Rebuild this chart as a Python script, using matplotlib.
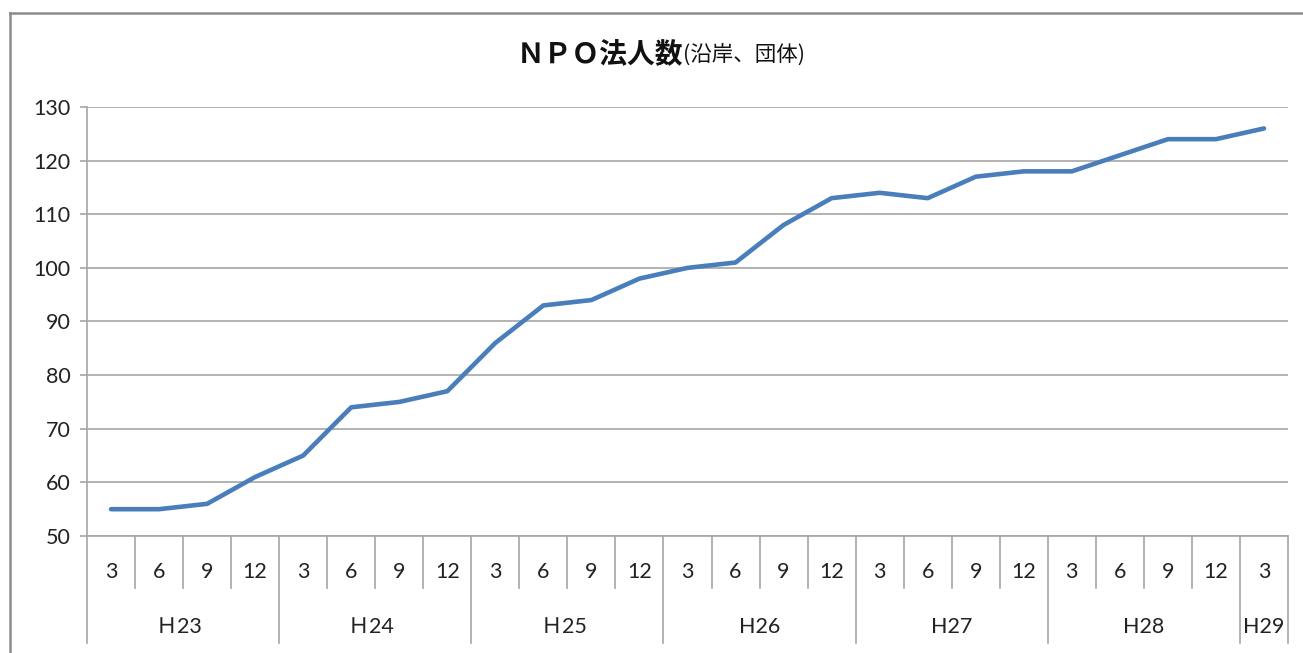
import matplotlib
matplotlib.use("Agg")
import matplotlib.pyplot as plt
from matplotlib.lines import Line2D

plt.rcParams['font.family'] = ['Lato', 'Noto Sans CJK JP', 'DejaVu Sans']

# ---- data ----
months = ["3", "6", "9", "12", "3", "6", "9", "12", "3", "6", "9", "12",
          "3", "6", "9", "12", "3", "6", "9", "12", "3", "6", "9", "12", "3"]
groups = ["Ｈ23", "Ｈ24", "Ｈ25", "H26", "H27", "H28", "H29"]
group_sizes = [4, 4, 4, 4, 4, 4, 1]
values = [55, 55, 56, 61, 65, 74, 75, 77, 86, 93, 94, 98,
          100, 101, 108, 113, 114, 113, 117, 118, 118, 121, 124, 124, 126]
yticks = [50, 60, 70, 80, 90, 100, 110, 120, 130]
title_main = "ＮＰＯ法人数"
title_sub = "(沿岸、団体)"

W, H = 1303, 653
fig = plt.figure(figsize=(W / 100, H / 100), dpi=100)

x0, x1, ytop, ybot = 87, 1288, 107, 536
ax = fig.add_axes([x0 / W, (H - ybot) / H, (x1 - x0) / W, (ybot - ytop) / H])

n = len(values)
xs = list(range(n))
ax.plot(xs, values, color="#4A7EBB", lw=3.3, solid_capstyle="round", solid_joinstyle="round", zorder=3)

FS = 15.5
ax.set_xlim(-0.5, n - 0.5)
ax.set_ylim(50, 130)
ax.set_yticks(yticks)
ax.set_yticklabels([str(v) for v in yticks], fontsize=FS, color="#222222")
ax.yaxis.grid(True, color="#A6A6A6", lw=1.2)
ax.set_axisbelow(True)
ax.tick_params(axis="y", length=5, width=1.2, color="#A6A6A6", pad=7)
ax.set_xticks([])
for s in ["top", "right"]:
    ax.spines[s].set_visible(False)
ax.spines["left"].set_color("#A6A6A6")
ax.spines["left"].set_linewidth(1.2)
ax.spines["bottom"].set_color("#A6A6A6")
ax.spines["bottom"].set_linewidth(1.2)

axh = ybot - ytop
short = -(588 - ybot) / axh
long_ = -(643 - ybot) / axh
trans = ax.get_xaxis_transform()

# group boundaries
bounds = [0]
for g in group_sizes:
    bounds.append(bounds[-1] + g)
for i in range(n + 1):
    yb = long_ if i in bounds else short
    ax.add_line(Line2D([i - 0.5, i - 0.5], [0, yb], transform=trans, color="#A6A6A6",
                       lw=1.2, clip_on=False))

for i, m in enumerate(months):
    ax.text(i, -(572 - ybot) / axh, m, transform=trans, ha="center", va="center",
            fontsize=FS, color="#222222")

for gi, g in enumerate(groups):
    c = (bounds[gi] + bounds[gi + 1]) / 2 - 0.5
    yy = -(627 - ybot) / axh
    if g.startswith("Ｈ"):
        # full-width H drawn in CJK font, digits in Latin font
        ax.text(c - 0.12, yy, g[0], transform=trans, ha="right", va="center",
                fontsize=FS, color="#222222", family=["Noto Sans CJK JP"])
        ax.text(c - 0.12, yy, g[1:], transform=trans, ha="left", va="center",
                fontsize=FS, color="#222222")
    else:
        ax.text(c, yy, g, transform=trans, ha="center", va="center",
                fontsize=FS, color="#222222")

# title
fig.text(683 / W, 1 - 54 / H, title_main, ha="right", va="center", fontsize=20,
         fontweight="bold", color="#111111", family=["Noto Sans CJK JP"])
fig.text(683 / W, 1 - 55 / H, title_sub, ha="left", va="center", fontsize=15.5,
         color="#111111", family=["Noto Sans CJK JP"])

# outer frame (left and top only visible)
fig.add_artist(Line2D([10 / W, 10 / W], [0, 1 - 13 / H], transform=fig.transFigure,
                      color="#8C8C8C", lw=1.8))
fig.add_artist(Line2D([10 / W, 1], [1 - 13 / H, 1 - 13 / H], transform=fig.transFigure,
                      color="#8C8C8C", lw=1.8))

fig.savefig("out.png", dpi=100)
